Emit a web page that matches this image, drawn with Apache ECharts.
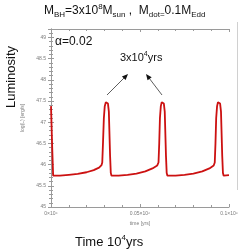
<!DOCTYPE html>
<html><head><meta charset="utf-8">
<script src="https://cdn.jsdelivr.net/npm/echarts@6/dist/echarts.min.js"></script>
<style>html,body{margin:0;padding:0;background:#fff}#c{width:242px;height:249px}</style>
</head><body><div id="c"></div>
<script>
// time in units of 10^6 yrs
var timeValues = [0.0000,0.0006,0.0012,0.0050,0.0100,0.0150,0.0200,0.0240,0.0270,0.0284,0.0288,0.0292,0.0297,0.0302,0.0308,0.0314,0.0320,0.0325,0.0328,0.0332,0.0336,0.0340,
  0.0380,0.0430,0.0480,0.0530,0.0570,0.0597,0.0604,0.0608,0.0612,0.0617,0.0622,0.0628,0.0634,0.0639,0.0642,0.0646,0.0650,0.0654,
  0.0700,0.0750,0.0800,0.0850,0.0890,0.0914,0.0920,0.0924,0.0928,0.0933,0.0938,0.0944,0.0950,0.0955,0.0958,0.0962,0.0966,0.0970,0.1000];
var lumValues = [47.38,46.50,45.74,45.74,45.76,45.78,45.82,45.87,45.93,45.99,46.05,46.50,47.10,47.38,47.47,47.48,47.44,47.25,46.80,46.20,45.80,45.74,
  45.74,45.76,45.79,45.84,45.91,45.98,46.05,46.50,47.10,47.38,47.47,47.48,47.44,47.25,46.80,46.20,45.80,45.74,
  45.74,45.76,45.79,45.84,45.91,45.98,46.05,46.50,47.10,47.38,47.47,47.48,47.44,47.25,46.80,46.20,45.80,45.74,45.75];
var yTicks = [45,45.5,46,46.5,47,47.5,48,48.5,49];
var xTicks = [0,0.05,0.1];

var data = timeValues.map(function(t,i){return [t,lumValues[i]];});
var chart = echarts.init(document.getElementById('c'), null, {renderer:'canvas'});
var axColor = '#9a9a9a';
var lblStyle = {fontSize:5, color:'#7a7a7a', fontFamily:'Liberation Sans'};
function hx(dx1,dy1,x2,y2){ // arrow head polygon
  var vx=x2-dx1, vy=y2-dy1, l=Math.sqrt(vx*vx+vy*vy); vx/=l; vy/=l;
  var bx=x2-6*vx, by=y2-6*vy, px=-vy*2.6, py=vx*2.6;
  return [[x2,y2],[bx+px,by+py],[bx-px,by-py]];
}
chart.setOption({
  animation:false,
  grid:{left:51,right:13,top:29,bottom:42},
  xAxis:[{type:'value',min:0,max:0.1,interval:0.05,position:'bottom',
    name:'time [yrs]',nameLocation:'middle',nameGap:14,nameTextStyle:lblStyle,
    axisLine:{lineStyle:{color:axColor,width:1}},
    axisTick:{inside:true,length:3,lineStyle:{color:axColor}},
    minorTick:{show:true,splitNumber:5,length:2,lineStyle:{color:axColor}},
    splitLine:{show:false},
    axisLabel:Object.assign({margin:4,formatter:function(v){return (v===0?'0':String(+v.toFixed(2)))+'×10⁶';}},lblStyle)},
   {type:'value',min:0,max:0.1,interval:0.05,position:'top',
    axisLine:{lineStyle:{color:axColor,width:1}},
    axisTick:{inside:true,length:3,lineStyle:{color:axColor}},
    minorTick:{show:true,splitNumber:5,length:2,lineStyle:{color:axColor}},
    splitLine:{show:false},axisLabel:{show:false}}],
  yAxis:[{type:'value',min:45,max:49.2,interval:0.5,position:'left',
    name:'log(L) [erg/s]',nameLocation:'middle',nameGap:17,nameTextStyle:lblStyle,
    axisLine:{show:true,lineStyle:{color:axColor,width:1}},
    axisTick:{show:true,inside:true,length:3,lineStyle:{color:axColor}},
    minorTick:{show:true,splitNumber:5,length:2,lineStyle:{color:axColor}},
    splitLine:{show:false},
    axisLabel:Object.assign({margin:5,showMaxLabel:false,formatter:function(v){return yTicks.indexOf(v)>=0?String(v):'';}},lblStyle)},
   {type:'value',min:45,max:49.2,interval:0.5,position:'right',
    axisLine:{show:true,lineStyle:{color:axColor,width:1}},
    axisTick:{show:true,inside:true,length:3,lineStyle:{color:axColor}},
    minorTick:{show:true,splitNumber:5,length:2,lineStyle:{color:axColor}},
    splitLine:{show:false},axisLabel:{show:false}}],
  series:[{type:'line',data:data,showSymbol:false,smooth:false,
    lineStyle:{color:'#cc1111',width:1.8},xAxisIndex:0,yAxisIndex:0}],
  graphic:[
    {type:'text',left:44,top:3,style:{
      text:'{n|M}{s|BH}{n|=3x10}{p|8}{n|M}{s|sun}{n| ,  M}{s|dot=}{n|0.1M}{s|Edd}',
      rich:{n:{fontSize:12,fontFamily:'Liberation Sans',fill:'#111',lineHeight:16,verticalAlign:'middle'},
            s:{fontSize:8,fontFamily:'Liberation Sans',fill:'#111',lineHeight:16,verticalAlign:'bottom'},
            p:{fontSize:8,fontFamily:'Liberation Sans',fill:'#111',lineHeight:16,verticalAlign:'top'}}}},
    {type:'text',x:11,y:77,rotation:Math.PI/2,style:{text:'Luminosity',fontSize:13,fontFamily:'Liberation Sans',fill:'#111',align:'center',verticalAlign:'middle'}},
    {type:'text',x:55,y:42,style:{text:'α=0.02',fontSize:12,fontFamily:'Liberation Sans',fill:'#111',verticalAlign:'middle'}},
    {type:'text',left:120,top:51,style:{
      text:'{n|3x10}{p|4}{n|yrs}',
      rich:{n:{fontSize:11,fontFamily:'Liberation Sans',fill:'#111',lineHeight:14,verticalAlign:'middle'},
            p:{fontSize:7,fontFamily:'Liberation Sans',fill:'#111',lineHeight:14,verticalAlign:'top'}}}},
    {type:'text',left:75,top:234,style:{
      text:'{n|Time 10}{p|4}{n|yrs}',
      rich:{n:{fontSize:13,fontFamily:'Liberation Sans',fill:'#111',lineHeight:16,verticalAlign:'middle'},
            p:{fontSize:8,fontFamily:'Liberation Sans',fill:'#111',lineHeight:16,verticalAlign:'top'}}}},
    {type:'line',shape:{x1:107,y1:95,x2:126,y2:76},style:{stroke:'#333',lineWidth:0.8}},
    {type:'polygon',shape:{points:hx(107,95,128,74)},style:{fill:'#111'}},
    {type:'line',shape:{x1:162,y1:95,x2:147.5,y2:76},style:{stroke:'#333',lineWidth:0.8}},
    {type:'polygon',shape:{points:hx(162,95,146,74)},style:{fill:'#111'}},
    {type:'line',shape:{x1:237.5,y1:22,x2:237.5,y2:190},style:{stroke:'#d0d0d0',lineWidth:1}}
  ]
});
</script></body></html>
